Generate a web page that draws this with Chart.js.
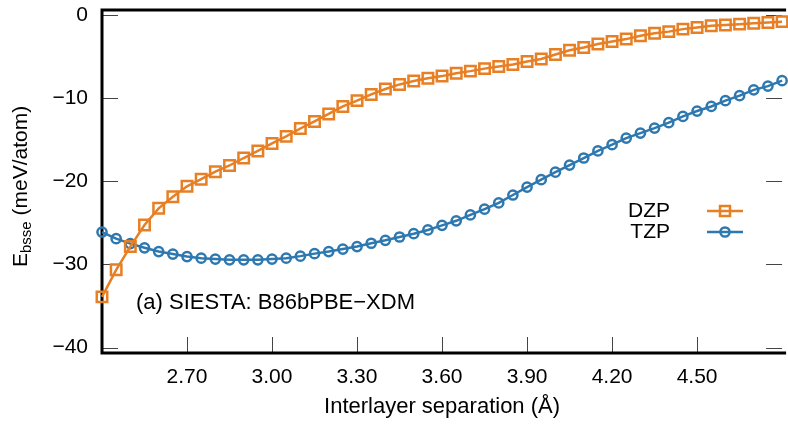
<!DOCTYPE html>
<html>
<head>
<meta charset="utf-8">
<script src="https://cdn.jsdelivr.net/npm/chart.js@4/dist/chart.umd.min.js"></script>
<style>
    html, body { margin: 0; padding: 0; background: #fff; overflow: hidden; width: 788px; height: 424px; }
    #wrap { position: absolute; left: 0; top: 0; width: 792px; height: 424px; }
</style>
</head>
<body>
<div id="wrap"><canvas id="bsseChart"></canvas></div>
<script>
// ===== DATA =====
const SEPARATION = [
    2.40, 2.45, 2.50, 2.55, 2.60, 2.65, 2.70, 2.75, 2.80, 2.85,
    2.90, 2.95, 3.00, 3.05, 3.10, 3.15, 3.20, 3.25, 3.30, 3.35,
    3.40, 3.45, 3.50, 3.55, 3.60, 3.65, 3.70, 3.75, 3.80, 3.85,
    3.90, 3.95, 4.00, 4.05, 4.10, 4.15, 4.20, 4.25, 4.30, 4.35,
    4.40, 4.45, 4.50, 4.55, 4.60, 4.65, 4.70, 4.75, 4.80
];

const DZP = [
    -33.9, -30.65, -27.85, -25.25, -23.25, -21.85, -20.6, -19.75, -18.85, -18.1,
    -17.2, -16.35, -15.45, -14.6, -13.65, -12.8, -11.9, -11.0, -10.3, -9.55,
    -8.9, -8.35, -7.95, -7.6, -7.35, -7.0, -6.75, -6.45, -6.2, -5.95,
    -5.6, -5.3, -4.75, -4.25, -3.9, -3.5, -3.2, -2.9, -2.5, -2.2,
    -2.0, -1.7, -1.5, -1.3, -1.2, -1.1, -1.0, -0.9, -0.8
];

const TZP = [
    -26.1, -26.9, -27.5, -28.0, -28.45, -28.75, -29.05, -29.25, -29.35, -29.45,
    -29.45, -29.45, -29.35, -29.25, -29.0, -28.7, -28.45, -28.15, -27.85, -27.45,
    -27.1, -26.7, -26.3, -25.85, -25.3, -24.75, -24.05, -23.35, -22.6, -21.65,
    -20.7, -19.8, -18.9, -18.05, -17.2, -16.35, -15.6, -14.8, -14.2, -13.6,
    -12.95, -12.2, -11.55, -11.0, -10.3, -9.7, -9.0, -8.55, -7.9
];

const X_TICKS = [2.70, 3.00, 3.30, 3.60, 3.90, 4.20, 4.50];
const Y_TICKS = [0, -10, -20, -30, -40];

const DZP_COLOR = '#e77f24';
const TZP_COLOR = '#2e78b0';
const FONT = '"Liberation Sans", Arial, sans-serif';

function toPoints(values) {
    return SEPARATION.map((x, i) => ({ x: x, y: values[i] }));
}

// no extra room for half-labels at the ends of the axes
function fixScale(s, size) {
    if (s.isHorizontal()) s.height = size; else s.width = size;
    s.paddingTop = 0;
    s.paddingBottom = 0;
    s.paddingLeft = 0;
    s.paddingRight = 0;
}

// ===== FRAME, TICKS, LABELS, LEGEND =====
const gnuplotLook = {
    id: 'gnuplotLook',
    beforeDatasetsDraw(chart) {
        const { ctx, chartArea: a, scales: { x, y } } = chart;
        ctx.save();
        ctx.strokeStyle = '#444';
        ctx.lineWidth = 1;
        ctx.beginPath();
        Y_TICKS.forEach(v => {
            const py = Math.round(y.getPixelForValue(v)) + 0.5;
            ctx.moveTo(a.left, py); ctx.lineTo(a.left + 16, py);
            ctx.moveTo(a.right - 16, py); ctx.lineTo(a.right, py);
        });
        X_TICKS.forEach(v => {
            const px = Math.round(x.getPixelForValue(v)) + 0.5;
            ctx.moveTo(px, a.bottom); ctx.lineTo(px, a.bottom - 16);
        });
        ctx.stroke();

        ctx.strokeStyle = '#000';
        ctx.lineWidth = 3;
        ctx.beginPath();
        ctx.moveTo(a.right + 4, a.top);
        ctx.lineTo(a.left, a.top);
        ctx.lineTo(a.left, a.bottom);
        ctx.lineTo(a.right + 4, a.bottom);
        ctx.stroke();
        ctx.restore();
    },
    afterDraw(chart) {
        const ctx = chart.ctx;
        ctx.save();
        ctx.fillStyle = '#000';

        // y title with subscript
        ctx.translate(27, 267);
        ctx.rotate(-Math.PI / 2);
        ctx.textAlign = 'left';
        ctx.textBaseline = 'alphabetic';
        ctx.font = '21px ' + FONT;
        ctx.fillText('E', 0, 0);
        let w = ctx.measureText('E').width;
        ctx.font = '15px ' + FONT;
        ctx.fillText('bsse', w, 4);
        w += ctx.measureText('bsse').width;
        ctx.font = '21px ' + FONT;
        ctx.fillText(' (meV/atom)', w, 0);
        ctx.restore();

        ctx.save();
        ctx.fillStyle = '#000';
        ctx.font = '22px ' + FONT;
        ctx.textBaseline = 'middle';
        ctx.textAlign = 'left';
        ctx.fillText('(a) SIESTA: B86bPBE\u2212XDM', 136, 303);

        // legend
        ctx.font = '21px ' + FONT;
        const rows = [
            { label: 'DZP', color: DZP_COLOR, style: 'rect', y: 211 },
            { label: 'TZP', color: TZP_COLOR, style: 'circle', y: 232 }
        ];
        rows.forEach(r => {
            ctx.fillStyle = '#000';
            ctx.textAlign = 'right';
            ctx.fillText(r.label, 670, r.y);
            ctx.strokeStyle = r.color;
            ctx.lineWidth = 2.5;
            ctx.beginPath();
            ctx.moveTo(707, r.y); ctx.lineTo(743, r.y);
            ctx.stroke();
            ctx.beginPath();
            if (r.style === 'rect') {
                ctx.rect(725 - 5, r.y - 5, 10, 10);
            } else {
                ctx.arc(725, r.y, 4.6, 0, Math.PI * 2);
            }
            ctx.stroke();
        });
        ctx.restore();
    }
};

// ===== CHART =====
function renderBsseChart() {
    const ctx = document.getElementById('bsseChart');

    window.bsseChart = new Chart(ctx.getContext('2d'), {
        type: 'line',
        data: {
            datasets: [
                {
                    label: 'DZP',
                    data: toPoints(DZP),
                    borderColor: DZP_COLOR,
                    backgroundColor: 'rgba(0,0,0,0)',
                    borderWidth: 2.5,
                    pointStyle: 'rect',
                    pointRadius: 7.4,
                    pointBorderWidth: 2.5,
                    pointBorderColor: DZP_COLOR,
                    pointBackgroundColor: 'rgba(0,0,0,0)',
                    tension: 0,
                    clip: false
                },
                {
                    label: 'TZP',
                    data: toPoints(TZP),
                    borderColor: TZP_COLOR,
                    backgroundColor: 'rgba(0,0,0,0)',
                    borderWidth: 2.5,
                    pointStyle: 'circle',
                    pointRadius: 4.6,
                    pointBorderWidth: 2.5,
                    pointBorderColor: TZP_COLOR,
                    pointBackgroundColor: 'rgba(0,0,0,0)',
                    tension: 0,
                    clip: false
                }
            ]
        },
        options: {
            responsive: true,
            maintainAspectRatio: false,
            animation: false,
            devicePixelRatio: 1,
            layout: { padding: { left: 0, right: 2, top: 10, bottom: 0 } },
            plugins: {
                legend: { display: false },
                tooltip: { enabled: false }
            },
            scales: {
                x: {
                    type: 'linear',
                    min: 2.40,
                    max: 4.80,
                    grid: { display: false, drawTicks: false },
                    border: { display: false },
                    afterBuildTicks: s => { s.ticks = X_TICKS.map(v => ({ value: v })); },
                    afterFit: s => fixScale(s, 71),
                    ticks: {
                        autoSkip: false,
                        maxRotation: 0,
                        padding: 12,
                        color: '#000',
                        font: { family: FONT, size: 21 },
                        callback: v => Number(v).toFixed(2)
                    },
                    title: {
                        display: true,
                        text: 'Interlayer separation (Å)',
                        color: '#000',
                        font: { family: FONT, size: 22 },
                        padding: { top: 4, bottom: 4 }
                    }
                },
                y: {
                    min: -40.65,
                    max: 0.6,
                    grid: { display: false, drawTicks: false },
                    border: { display: false },
                    afterBuildTicks: s => { s.ticks = Y_TICKS.map(v => ({ value: v })); },
                    afterFit: s => fixScale(s, 102),
                    ticks: {
                        padding: 14,
                        color: '#000',
                        font: { family: FONT, size: 21 },
                        callback: v => String(v).replace('-', '\u2212')
                    }
                }
            }
        },
        plugins: [gnuplotLook]
    });
}

renderBsseChart();
</script>
</body>
</html>
